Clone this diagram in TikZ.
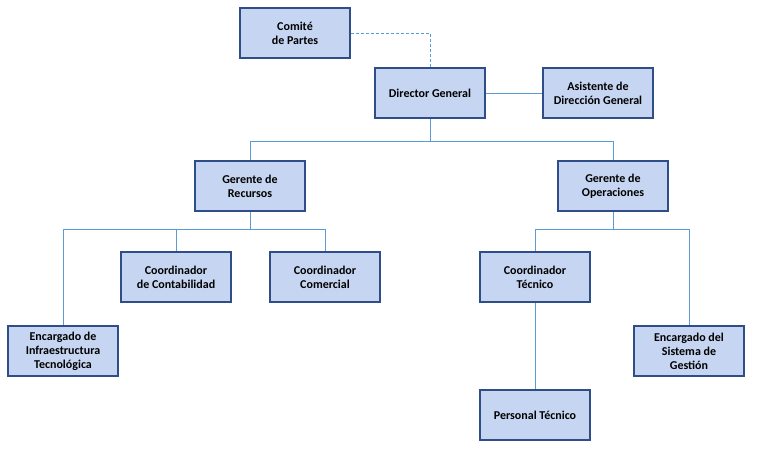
\documentclass[tikz,border=0pt]{standalone}
\usepackage{fontspec}
\setmainfont{Carlito}
\definecolor{boxfill}{RGB}{198,214,242}
\definecolor{boxedge}{RGB}{47,78,135}
\definecolor{linkblue}{RGB}{91,155,213}
\begin{document}
\begin{tikzpicture}[x=1pt,y=-1pt,
  orgbox/.style={draw=boxedge,fill=boxfill,line width=1.1pt,minimum width=110pt,minimum height=50pt,
    align=center,inner sep=2pt,font=\fontsize{12}{14}\selectfont\bfseries},
  link/.style={draw=linkblue,line width=1pt},
  dlink/.style={draw=linkblue,line width=1pt,dash pattern=on 3pt off 2pt}]
\useasboundingbox (0,0) rectangle (758,453);
\node[orgbox] (comite) at (295,33) {Comité\\de Partes};
\node[orgbox] (dir) at (430,93) {Director General};
\node[orgbox] (asis) at (598,93) {Asistente de\\Dirección General};
\node[orgbox] (grec) at (250,186) {Gerente de\\Recursos};
\node[orgbox] (gope) at (613,186) {Gerente de\\Operaciones};
\node[orgbox] (ccon) at (176,277) {Coordinador\\de Contabilidad};
\node[orgbox] (ccom) at (325,277) {Coordinador\\Comercial};
\node[orgbox] (einf) at (63,351) {Encargado de\\Infraestructura\\Tecnológica};
\node[orgbox] (ctec) at (535,277) {Coordinador\\Técnico};
\node[orgbox] (esis) at (689,351) {Encargado del\\Sistema de\\Gestión};
\node[orgbox] (ptec) at (535,415) {Personal Técnico};
\coordinate (j1) at (430,141);
\coordinate (j2) at (250,229);
\coordinate (j3) at (613,229);
\draw[dlink] (comite.east) -| (dir.north);
\draw[link] (dir.east) -- (asis.west);
\draw[link] (dir.south) -- (j1);
\draw[link] (j1) -| (grec.north);
\draw[link] (j1) -| (gope.north);
\draw[link] (grec.south) -- (j2);
\draw[link] (j2) -| (einf.north);
\draw[link] (j2) -| (ccon.north);
\draw[link] (j2) -| (ccom.north);
\draw[link] (gope.south) -- (j3);
\draw[link] (j3) -| (ctec.north);
\draw[link] (j3) -| (esis.north);
\draw[link] (ctec.south) -- (ptec.north);
\end{tikzpicture}
\end{document}
